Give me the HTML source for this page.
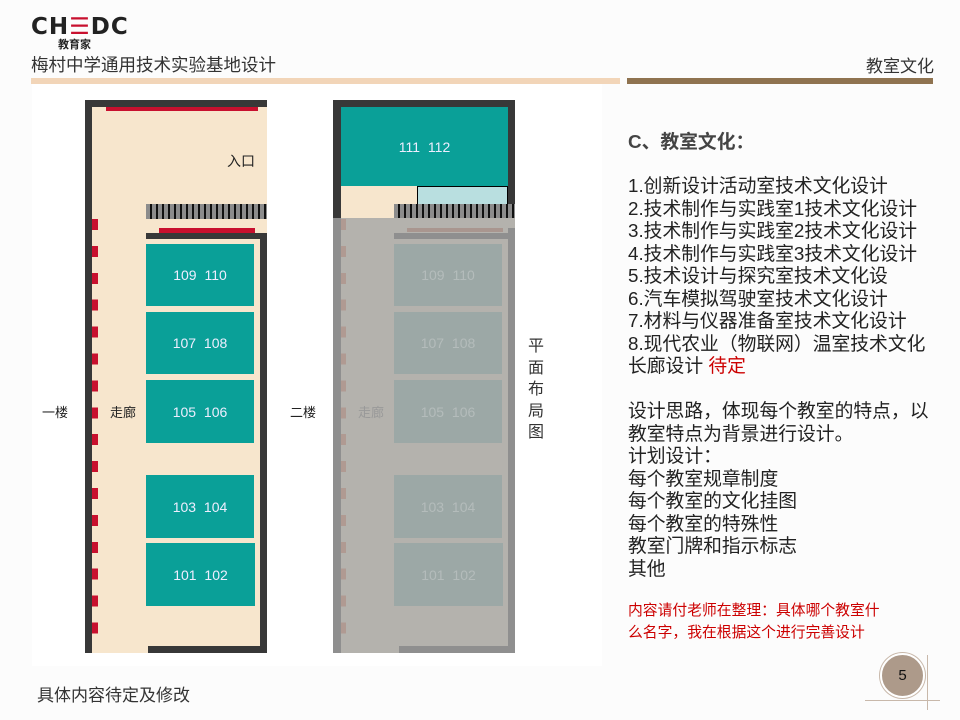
<!DOCTYPE html>
<html><head><meta charset="utf-8"><style>
*{margin:0;padding:0;box-sizing:border-box}
body{width:960px;height:720px;background:#fcfcfc;position:relative;overflow:hidden;font-family:"Liberation Sans","Noto Sans CJK SC",sans-serif}
.a{position:absolute}
.room{position:absolute;background:#0aa098;color:#eef;font-size:14px;display:flex;align-items:center;justify-content:center;word-spacing:4px}
.groom{position:absolute;background:#9ca8a6;color:#b4bcbb;font-size:14px;display:flex;align-items:center;justify-content:center;word-spacing:4px}
.stairs{position:absolute;background:repeating-linear-gradient(90deg,#8c8c8c 0 4px,#111 4px 6px)}
.rt{position:absolute;left:628px;font-size:18.8px;color:#222;line-height:22.5px;white-space:nowrap}
</style></head><body>
<div class="a" style="left:32px;top:84px;width:570px;height:582px;background:#fff"></div>
<div class="a" style="left:31px;top:14px;font-size:23px;font-weight:bold;color:#222;letter-spacing:1px;font-family:'DejaVu Sans',sans-serif">CH<span style="color:#c8102e">☰</span>DC</div>
<div class="a" style="left:58px;top:36px;font-size:11px;font-weight:bold;color:#222">教育家</div>
<div class="a" style="left:31px;top:52px;font-size:17.5px;color:#333">梅村中学通用技术实验基地设计</div>
<div class="a" style="left:31px;top:78px;width:589px;height:6px;background:#f2d5b8"></div>
<div class="a" style="left:627px;top:78px;width:306px;height:6px;background:#8f7350"></div>
<div class="a" style="left:866px;top:52px;font-size:17px;color:#333">教室文化</div>

<!-- left plan -->
<div class="a" style="left:85px;top:100px;width:182px;height:553px;background:#f7e6cd"></div>
<div class="a" style="left:85px;top:100px;width:182px;height:7px;background:#383838"></div>
<div class="a" style="left:85px;top:100px;width:7px;height:553px;background:#383838"></div>
<div class="a" style="left:106px;top:107px;width:152px;height:4px;background:#c8102e"></div>
<div class="stairs" style="left:146px;top:204px;width:121px;height:15px"></div>
<div class="a" style="left:159px;top:228px;width:96px;height:5px;background:#c8102e"></div>
<div class="a" style="left:146px;top:233px;width:121px;height:6px;background:#383838"></div>
<div class="a" style="left:260px;top:233px;width:7px;height:420px;background:#383838"></div>
<div class="a" style="left:148px;top:646px;width:119px;height:7px;background:#383838"></div>
<div class="a" style="left:92px;top:219px;width:6px;height:415px;background:repeating-linear-gradient(180deg,#c8102e 0 11px,transparent 11px 26.9px)"></div>
<div class="room" style="left:146px;top:244px;width:108px;height:62px">109 110</div>
<div class="room" style="left:146px;top:312px;width:108px;height:62px">107 108</div>
<div class="room" style="left:146px;top:380px;width:108px;height:63px">105 106</div>
<div class="room" style="left:146px;top:475px;width:108px;height:63px">103 104</div>
<div class="room" style="left:146px;top:543px;width:109px;height:63px">101 102</div>
<div class="a" style="left:227px;top:151px;font-size:14px;color:#222">入口</div>
<div class="a" style="left:110px;top:402px;font-size:13px;color:#222">走廊</div>
<div class="a" style="left:42px;top:402px;font-size:13px;color:#222">一楼</div>

<!-- right plan -->
<div class="a" style="left:333px;top:100px;width:182px;height:118px;background:#383838"></div>
<div class="a" style="left:341px;top:107px;width:167px;height:79px;background:#0aa098;color:#eef;font-size:14px;display:flex;align-items:center;justify-content:center;word-spacing:4px">111 112</div>
<div class="a" style="left:341px;top:186px;width:167px;height:32px;background:#f7e6cd"></div>
<div class="a" style="left:417px;top:186px;width:91px;height:19px;background:#b9dfe0;border:1.5px solid #000"></div>
<div class="stairs" style="left:394px;top:204px;width:121px;height:15px"></div>
<div class="a" style="left:333px;top:218px;width:182px;height:435px;background:#b4b2ad"></div>
<div class="a" style="left:333px;top:218px;width:8px;height:435px;background:#8f8f8f"></div>
<div class="a" style="left:508px;top:228px;width:7px;height:425px;background:#8f8f8f"></div>
<div class="a" style="left:394px;top:233px;width:121px;height:6px;background:#8f8f8f"></div>
<div class="a" style="left:407px;top:228px;width:96px;height:4px;background:#a9968f"></div>
<div class="a" style="left:399px;top:646px;width:116px;height:7px;background:#8f8f8f"></div>
<div class="a" style="left:341px;top:219px;width:5px;height:415px;background:repeating-linear-gradient(180deg,#b09a92 0 11px,transparent 11px 26.9px)"></div>
<div class="groom" style="left:394px;top:244px;width:108px;height:62px">109 110</div>
<div class="groom" style="left:394px;top:312px;width:108px;height:62px">107 108</div>
<div class="groom" style="left:394px;top:380px;width:108px;height:63px">105 106</div>
<div class="groom" style="left:394px;top:475px;width:108px;height:63px">103 104</div>
<div class="groom" style="left:394px;top:543px;width:109px;height:63px">101 102</div>
<div class="a" style="left:358px;top:402px;font-size:13px;color:#999">走廊</div>
<div class="a" style="left:290px;top:402px;font-size:13px;color:#222">二楼</div>
<div class="a" style="left:528px;top:336px;width:18px;font-size:16px;line-height:21.5px;color:#333">平面布局图</div>

<!-- right text -->
<div class="rt" style="top:131px;font-weight:bold;color:#444">C、教室文化：</div>
<div class="rt" style="top:175px">1.创新设计活动室技术文化设计<br>2.技术制作与实践室1技术文化设计<br>3.技术制作与实践室2技术文化设计<br>4.技术制作与实践室3技术文化设计<br>5.技术设计与探究室技术文化设<br>6.汽车模拟驾驶室技术文化设计<br>7.材料与仪器准备室技术文化设计<br>8.现代农业（物联网）温室技术文化<br>长廊设计 <span style="color:#c00">待定</span></div>
<div class="rt" style="top:400px">设计思路，体现每个教室的特点，以<br>教室特点为背景进行设计。<br>计划设计：<br>每个教室规章制度<br>每个教室的文化挂图<br>每个教室的特殊性<br>教室门牌和指示标志<br>其他</div>
<div class="rt" style="top:600px;font-size:14.8px;color:#c00;line-height:22px">内容请付老师在整理：具体哪个教室什<br>么名字，我在根据这个进行完善设计</div>

<div class="a" style="left:37px;top:681px;font-size:17px;color:#333">具体内容待定及修改</div>
<div class="a" style="left:880px;top:653px;width:45px;height:45px;border-radius:50%;background:#ad9a8a;border:2px solid #fff;box-shadow:0 0 0 1px #c8b8aa;display:flex;align-items:center;justify-content:center;font-size:15px;color:#111">5</div>
<div class="a" style="left:865px;top:700px;width:75px;height:1px;background:#c8b8aa"></div>
<div class="a" style="left:927px;top:655px;width:1px;height:55px;background:#c8b8aa"></div>
</body></html>
